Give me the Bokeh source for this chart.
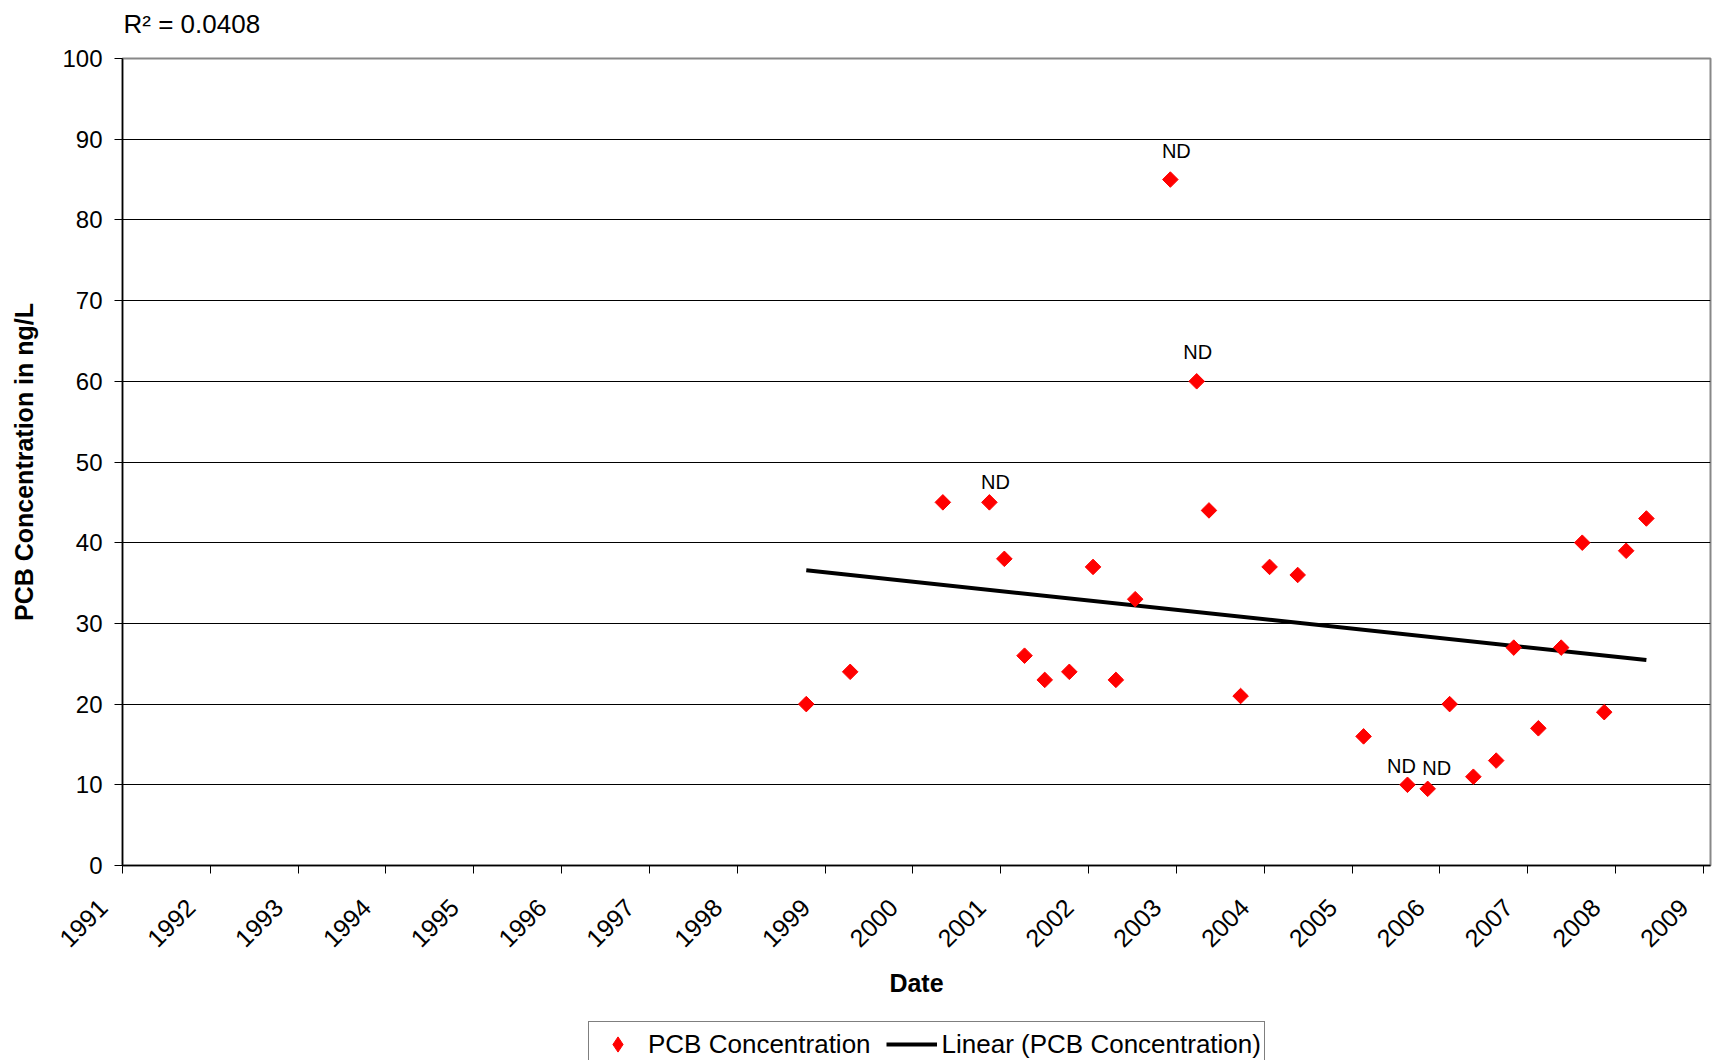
import numpy as np
from math import pi
from bokeh.plotting import figure
from bokeh.layouts import column
from bokeh.models import Legend, LegendItem, Label, FixedTicker, ColumnDataSource
from bokeh.core.properties import value
from bokeh.embed import file_html
from bokeh.resources import INLINE

# ---- data (decimal years, ng/L) ----
dates = [1998.785, 1999.285, 2000.34, 2000.87, 2001.04, 2001.27, 2001.50, 2001.78,
         2002.05, 2002.31, 2002.53, 2002.93, 2003.23, 2003.37, 2003.73, 2004.06,
         2004.38, 2005.13, 2005.63, 2005.86, 2006.11, 2006.38, 2006.64, 2006.84,
         2007.12, 2007.38, 2007.62, 2007.87, 2008.12, 2008.35]
pcb = [20, 24, 45, 45, 38, 26, 23, 24,
       37, 23, 33, 85, 60, 44, 21, 37,
       36, 16, 10, 9.5, 20, 11, 13, 27,
       17, 27, 40, 19, 39, 43]
nd_flag = [False, False, False, True, False, False, False, False,
           False, False, False, True, True, False, False, False,
           False, False, True, True, False, False, False, False,
           False, False, False, False, False, False]
year_ticks = list(range(1991, 2010))
year_labels = [str(y) for y in year_ticks]
y_ticks = [0, 10, 20, 30, 40, 50, 60, 70, 80, 90, 100]
r2_text = "R\u00b2 = 0.0408"
x_title = "Date"
y_title = "PCB Concentration in ng/L"
series_label = "PCB Concentration"
trend_label = "Linear (PCB Concentration)"

# ---- label offsets (style) for ND labels, in pixels ----
nd_dx = [6, 6, 1, -6, 9]
nd_dy = [-20, -29, -29, -19, -21]

FONT = "Liberation Sans"
W = 1716


def blank(height):
    f = figure(width=W, height=height, output_backend="svg", toolbar_location=None,
               x_range=(0, 1), y_range=(0, 1), min_border=0)
    f.axis.visible = False
    f.grid.visible = False
    f.outline_line_color = None
    return f


# ---- trend line (least squares) ----
slope, intercept = np.polyfit(dates, pcb, 1)
tx = [min(dates), max(dates)]
ty = [slope * v + intercept for v in tx]

# ---- top strip holding the R^2 annotation (frame aligned with main frame) ----
p_top = blank(40)
p_top.add_layout(Label(x=1, y=17, x_units="screen", y_units="screen", text=r2_text,
                       text_font=FONT, text_font_size="26px", text_baseline="middle",
                       text_color="black"))

# ---- main chart ----
p = figure(width=W, height=981, output_backend="svg", toolbar_location=None,
           x_range=(1991, 2009.08), y_range=(0, 100),
           min_border_left=122, min_border_right=6, min_border_top=18,
           min_border_bottom=156)
p.background_fill_color = "white"
p.outline_line_color = "#888888"
p.outline_line_width = 2

p.line(tx, ty, line_color="black", line_width=4)
p.scatter(dates, pcb, marker="square", angle=pi / 4, size=11,
          fill_color="red", line_color="red")

nd_x = [d for d, f in zip(dates, nd_flag) if f]
nd_y = [v for v, f in zip(pcb, nd_flag) if f]
nd_src = ColumnDataSource(dict(x=nd_x, y=nd_y, t=["ND"] * len(nd_x), dx=nd_dx, dy=nd_dy))
p.text(x="x", y="y", text="t", x_offset="dx", y_offset="dy", source=nd_src,
       text_font=value(FONT), text_font_size="20px", text_align="center",
       text_baseline="middle", text_color="black")

p.xaxis.ticker = FixedTicker(ticks=year_ticks)
# trailing no-break spaces slide the 45-degree labels down-left of their ticks
p.xaxis.major_label_overrides = {t: l + "\u00a0" * 4 for t, l in zip(year_ticks, year_labels)}
p.xaxis.major_label_orientation = pi / 4
p.yaxis.ticker = FixedTicker(ticks=y_ticks)
for ax in (p.xaxis[0], p.yaxis[0]):
    ax.major_tick_out = 8
    ax.major_tick_in = 0
    ax.minor_tick_out = 0
    ax.minor_tick_in = 0
    ax.axis_line_color = "black"
    ax.axis_line_width = 1.5
    ax.major_tick_line_color = "black"
    ax.major_label_text_font = FONT
    ax.major_label_text_font_size = "24px"
    ax.major_label_text_color = "black"
    ax.axis_label_text_font = FONT
    ax.axis_label_text_font_size = "25px"
    ax.axis_label_text_font_style = "bold"
    ax.axis_label_text_color = "black"
p.xaxis.major_label_text_font_size = "25px"
p.yaxis.major_label_standoff = 12
p.yaxis.axis_label = y_title
p.yaxis.axis_label_standoff = 21
p.xaxis.major_label_standoff = 10
p.xaxis.axis_label = x_title
p.xaxis.axis_label_standoff = 4

p.xgrid.visible = False
p.ygrid.ticker = FixedTicker(ticks=y_ticks[1:-1])
p.ygrid.grid_line_color = "black"
p.ygrid.grid_line_width = 1

# ---- bottom strip holding the legend; its key renderers use the same data but
# ---- lie outside this strip's (0, 1) ranges, so only the legend is visible
p_leg = blank(39)
sc_key = p_leg.scatter(dates, pcb, marker="diamond", size=15, fill_color="red",
                       line_color="red")
ln_key = p_leg.line(tx, ty, line_color="black", line_width=4)
legend = Legend(items=[LegendItem(label=series_label, renderers=[sc_key]),
                       LegendItem(label=trend_label, renderers=[ln_key])],
                orientation="horizontal", location=(466, -7),
                padding=3, spacing=15, label_standoff=5, glyph_width=51,
                glyph_height=38, label_height=30, margin=0,
                border_line_color="black", border_line_width=1.5,
                background_fill_color="white", background_fill_alpha=1,
                label_text_font=FONT, label_text_font_size="26px",
                label_text_color="black")
p_leg.add_layout(legend)

layout = column(p_top, p, p_leg, spacing=0)
open("out.html", "w").write(file_html(layout, INLINE))
